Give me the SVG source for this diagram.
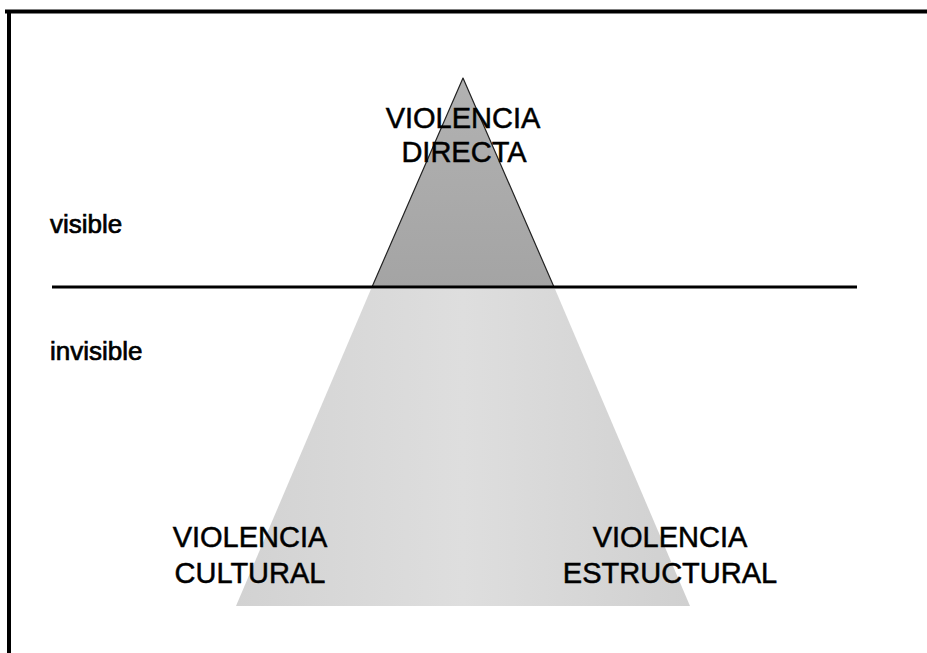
<svg xmlns="http://www.w3.org/2000/svg" width="927" height="653" viewBox="0 0 927 653">
<style>
.lbl{font-family:"Liberation Sans",Arial,sans-serif;fill:#000;stroke:#000;stroke-width:0.5;}
.big{font-size:29px;text-anchor:middle;}
.side{font-size:26px;stroke-width:0.7;}
</style>
<defs>
<linearGradient id="gTop" x1="0" y1="0" x2="0" y2="1">
<stop offset="0" stop-color="#b2b2b2"/>
<stop offset="1" stop-color="#a4a4a4"/>
</linearGradient>
<linearGradient id="gBot" x1="0" y1="0" x2="1" y2="0">
<stop offset="0" stop-color="#d2d2d2"/>
<stop offset="0.5" stop-color="#dedede"/>
<stop offset="1" stop-color="#d0d0d0"/>
</linearGradient>
</defs>
<rect x="0" y="0" width="927" height="653" fill="#fff"/>
<g id="frame" stroke="#000" stroke-width="4" fill="none">
<line x1="5" y1="11.5" x2="927" y2="11.5"/>
<line x1="9" y1="10" x2="9" y2="653"/>
</g>
<g id="invisible-base">
<polygon points="371,289 555,289 690,606 236,606" fill="url(#gBot)"/>
</g>
<g id="visible-top">
<polygon points="463,78 372,287 554,287" fill="url(#gTop)" stroke="#222" stroke-width="1.2" stroke-linejoin="round"/>
</g>
<g id="connectors">
<line x1="52" y1="287" x2="857" y2="287" stroke="#000" stroke-width="3"/>
</g>
<g id="label-visible"><text class="lbl side" x="50" y="233">visible</text></g>
<g id="label-invisible"><text class="lbl side" x="50" y="360">invisible</text></g>
<g id="node-directa">
<text class="lbl big" x="463" y="128">VIOLENCIA</text>
<text class="lbl big" x="464" y="162">DIRECTA</text>
</g>
<g id="node-cultural">
<text class="lbl big" x="250" y="547">VIOLENCIA</text>
<text class="lbl big" x="250" y="583">CULTURAL</text>
</g>
<g id="node-estructural">
<text class="lbl big" x="670" y="547">VIOLENCIA</text>
<text class="lbl big" x="670" y="583">ESTRUCTURAL</text>
</g>
</svg>
